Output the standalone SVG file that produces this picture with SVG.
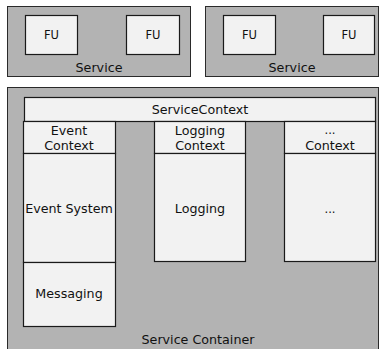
<svg xmlns="http://www.w3.org/2000/svg" width="380" height="349" viewBox="0 0 380 349">
<style>
.bg{fill:#b3b3b3;stroke:#2a2a2a;stroke-width:1}
.box{fill:#f2f2f2;stroke:#1a1a1a;stroke-width:1.2}
text{font-family:"DejaVu Sans",Verdana,sans-serif;font-size:12.7px;fill:#111;text-anchor:middle}
.sm{font-size:11.5px}
</style>
<rect width="380" height="349" fill="#ffffff"/>
<g id="service1">
<rect class="bg" x="7.5" y="6.5" width="183" height="70"/>
<text x="99" y="72">Service</text>
</g>
<g id="fu1">
<rect class="box" x="25.5" y="15.5" width="52" height="39"/>
<text class="sm" x="51.5" y="39">FU</text>
</g>
<g id="fu2">
<rect class="box" x="126.5" y="15.5" width="53" height="39"/>
<text class="sm" x="153" y="39">FU</text>
</g>
<g id="service2">
<rect class="bg" x="205.5" y="6.5" width="173" height="70"/>
<text x="292" y="72">Service</text>
</g>
<g id="fu3">
<rect class="box" x="223.5" y="15.5" width="52" height="39"/>
<text class="sm" x="249.5" y="39">FU</text>
</g>
<g id="fu4">
<rect class="box" x="323.5" y="15.5" width="51" height="39"/>
<text class="sm" x="349" y="39">FU</text>
</g>
<g id="serviceContainer">
<rect class="bg" x="7.5" y="87.5" width="371" height="262"/>
<text x="198" y="344">Service Container</text>
</g>
<g id="serviceContext">
<rect class="box" x="24.5" y="97.5" width="351" height="24"/>
<text x="200" y="114">ServiceContext</text>
</g>
<g id="eventContext">
<rect class="box" x="23.5" y="121.5" width="92" height="32"/>
<text x="69" y="135">Event</text>
<text x="69" y="150">Context</text>
</g>
<g id="eventSystem">
<rect class="box" x="23.5" y="153.5" width="92" height="109"/>
<text x="69" y="213">Event System</text>
</g>
<g id="messaging">
<rect class="box" x="23.5" y="262.5" width="92" height="64"/>
<text x="69" y="298">Messaging</text>
</g>
<g id="loggingContext">
<rect class="box" x="154.5" y="121.5" width="91" height="32"/>
<text x="200" y="135">Logging</text>
<text x="200" y="150">Context</text>
</g>
<g id="logging">
<rect class="box" x="154.5" y="153.5" width="91" height="108"/>
<text x="200" y="213">Logging</text>
</g>
<g id="otherContext">
<rect class="box" x="284.5" y="121.5" width="91" height="32"/>
<text class="sm" x="330" y="134">...</text>
<text x="330" y="150">Context</text>
</g>
<g id="other">
<rect class="box" x="284.5" y="153.5" width="91" height="108"/>
<text class="sm" x="330" y="213">...</text>
</g>
</svg>
